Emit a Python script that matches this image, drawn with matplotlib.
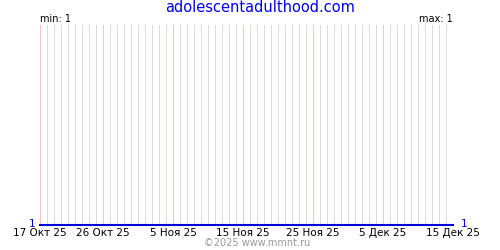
import datetime as dt
import numpy as np
import matplotlib
matplotlib.use('Agg')
import matplotlib.pyplot as plt
import matplotlib.dates as mdates

# daily visits, 17 Oct 2025 .. 15 Dec 2025 (flat at 1)
start = dt.date(2025, 10, 17)
n_days = 60
days = [start + dt.timedelta(days=i) for i in range(n_days)]
values = [1] * n_days

label_dates = [dt.date(2025, 10, 17), dt.date(2025, 10, 26), dt.date(2025, 11, 5),
               dt.date(2025, 11, 15), dt.date(2025, 11, 25), dt.date(2025, 12, 5),
               dt.date(2025, 12, 15)]
label_texts = ['17 Окт 25', '26 Окт 25', '5 Ноя 25', '15 Ноя 25',
               '25 Ноя 25', '5 Дек 25', '15 Дек 25']

fig = plt.figure(figsize=(5, 2.5), dpi=100)
ax = fig.add_axes([0.08, 0.1, 0.826, 0.8])

# daily grid lines, pink ones at labelled dates
for d in days:
    if d in label_dates:
        ax.axvline(d, color='#ffc0c0', linewidth=0.72, zorder=2, antialiased=False)
    else:
        ax.axvline(d, color='#dcdcdc', linewidth=0.72, zorder=1, antialiased=False)

ax.plot(days, values, color='#0000dd', linewidth=1.5, zorder=3, clip_on=False)

ax.set_xlim(days[0], days[-1])
ax.set_ylim(1, 2)
for s in ax.spines.values():
    s.set_visible(False)
ax.set_yticks([])
ax.set_xticks(label_dates)
ax.set_xticklabels(label_texts, fontsize=7.5)
ax.tick_params(axis='x', length=0, pad=2)

fig.text(0.52, 0.968, 'adolescentadulthood.com', color='#0000ee', fontsize=10.5,
         ha='center', va='center')
fig.text(0.08, 0.925, 'min: 1', fontsize=7, ha='left', va='center')
fig.text(0.906, 0.925, 'max: 1', fontsize=7, ha='right', va='center')
fig.text(0.07, 0.105, '1', color='#0000dd', fontsize=7.5, ha='right', va='center')
fig.text(0.922, 0.105, '1', color='#0000dd', fontsize=7.5, ha='left', va='center')
fig.text(0.515, 0.028, '©2025 www.mmnt.ru', color='#999999', fontsize=7,
         ha='center', va='center')

fig.savefig('out.png', dpi=100)
